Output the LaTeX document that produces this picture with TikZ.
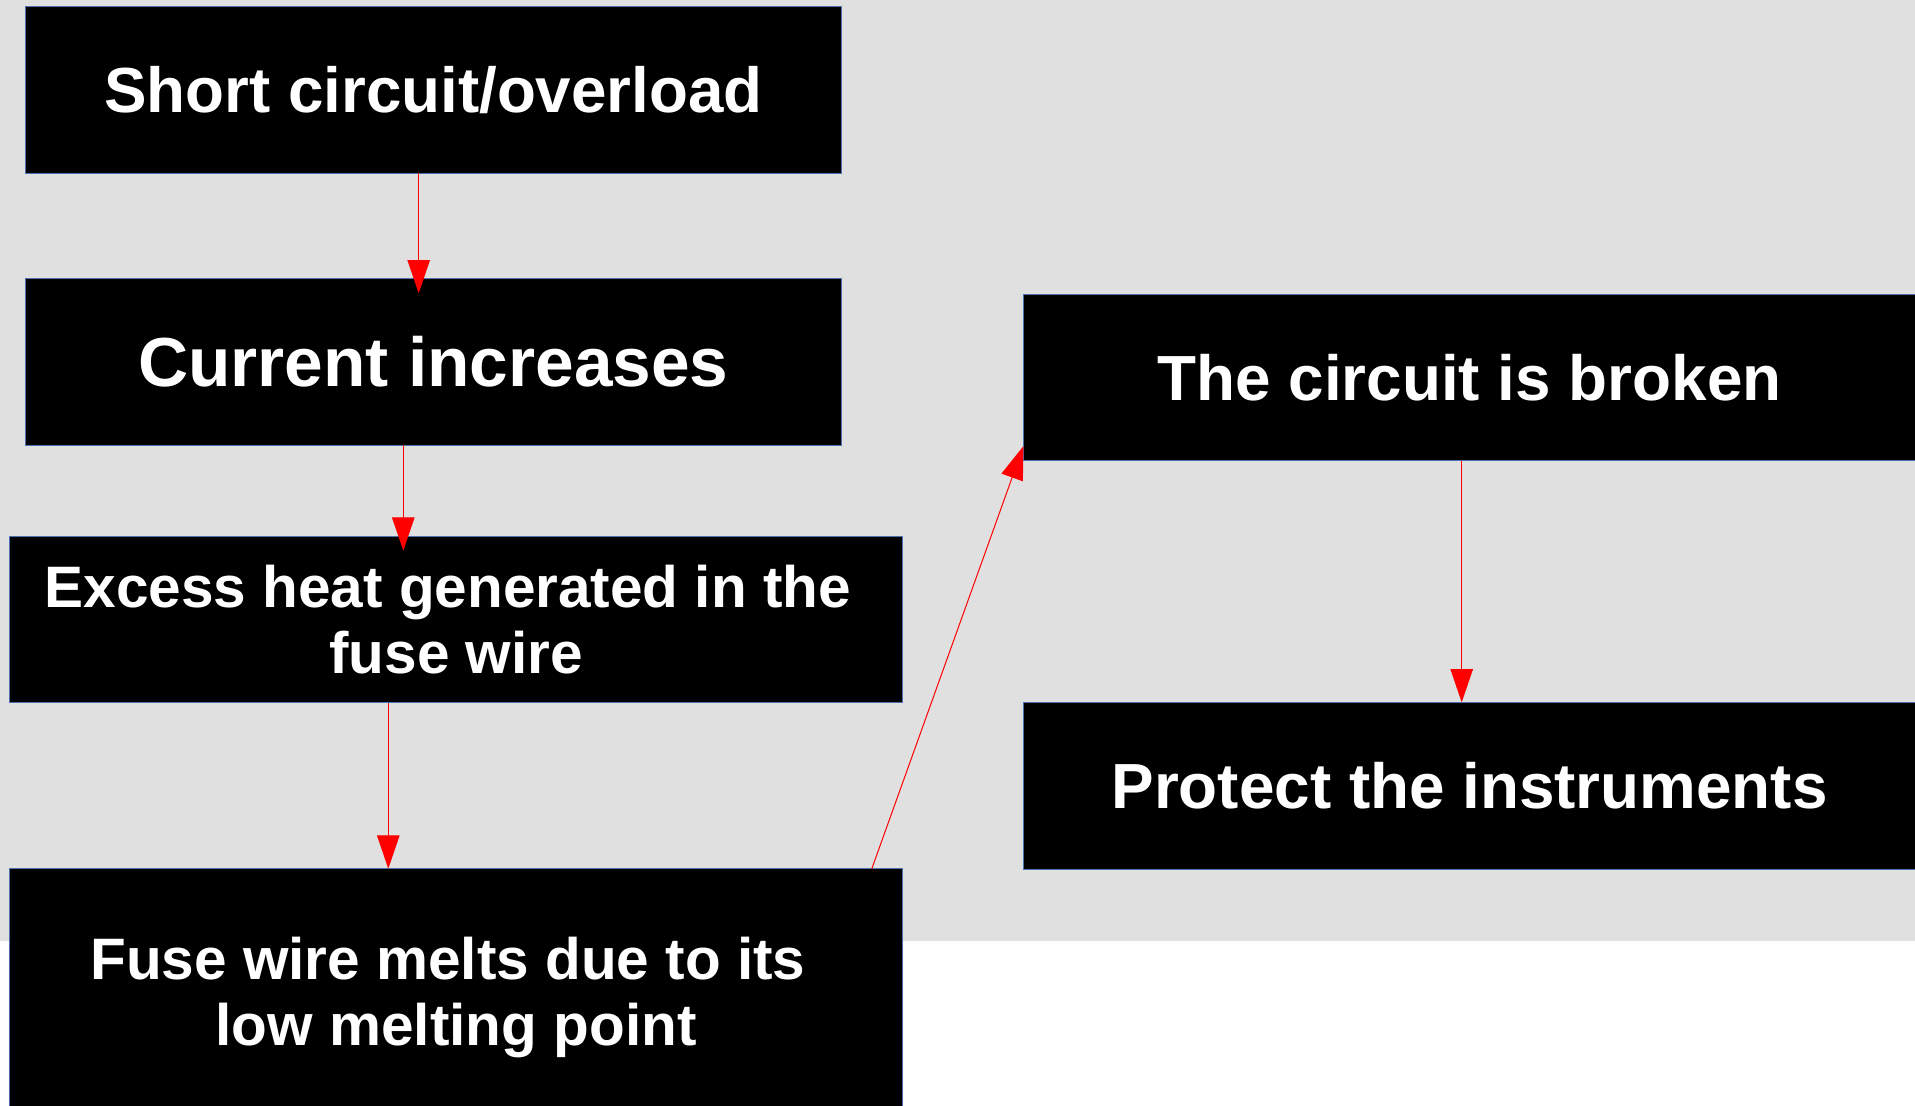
\documentclass[tikz,border=0pt]{standalone}
\usepackage{fontspec}
\setmainfont{Liberation Sans}
\usetikzlibrary{arrows.meta}
\definecolor{panelgray}{HTML}{E0E0E0}
\definecolor{edgeblue}{HTML}{4A72B0}
\definecolor{flowred}{HTML}{FF0000}
\begin{document}
\begin{tikzpicture}[x=1pt,y=-1pt,
  stepbox/.style={draw=edgeblue, line width=1pt, fill=black, text=white,
    anchor=north west, outer sep=0pt, inner sep=0pt, align=center,
    minimum height=166.8pt},
  narrowbox/.style={stepbox, minimum width=816.2pt},
  widebox/.style={stepbox, minimum width=892.5pt},
  fs/.style={font=\bfseries\fontsize{#1}{66}\selectfont},
  flow/.style={draw=flowred, line width=1pt,
    -{Triangle[length=33.3pt,width=22.5pt]}}]
  \useasboundingbox (0,0) rectangle (1915,1106);
  \clip (0,0) rectangle (1915,1106);
  % grey panel behind the chart
  \fill[panelgray] (0,0) rectangle (1915,940.7);

  % left column (wrapped lines keep their trailing space)
  \node[narrowbox, fs=63.7] (b1) at (25.3,6.3) {Short circuit/overload};
  \node[narrowbox, fs=69.4] (b2) at (25.3,278.3) {Current increases};
  \node[widebox, fs=58.5] (b3) at (9.8,536)
    {Excess heat generated in the\kern16.3pt\\fuse wire};
  \node[widebox, fs=58.5, minimum height=244.6pt] (b4) at (9.8,868.7)
    {Fuse wire melts due to its\kern16.3pt\\\smash{low melting point}};
  % right column
  \node[widebox, fs=63.8] (b5) at (1023.4,294) {The circuit is broken};
  \node[widebox, fs=63.8] (b6) at (1023.4,702.3) {Protect the instruments};

  % connectors
  \draw[flow] ([xshift=393.4pt]b1.south west) -- ([xshift=393.4pt,yshift=-15pt]b2.north west);
  \draw[flow] ([xshift=378pt]b2.south west) -- ([xshift=393.5pt,yshift=-14.7pt]b3.north west);
  \draw[flow] ([xshift=378.5pt]b3.south west) -- ([xshift=378.5pt]b4.north west);
  \draw[flow] ([xshift=862pt]b4.north west) -- ([yshift=14.7pt]b5.south west);
  \draw[flow] ([xshift=438.3pt]b5.south west) -- ([xshift=438.3pt]b6.north west);
\end{tikzpicture}
\end{document}
